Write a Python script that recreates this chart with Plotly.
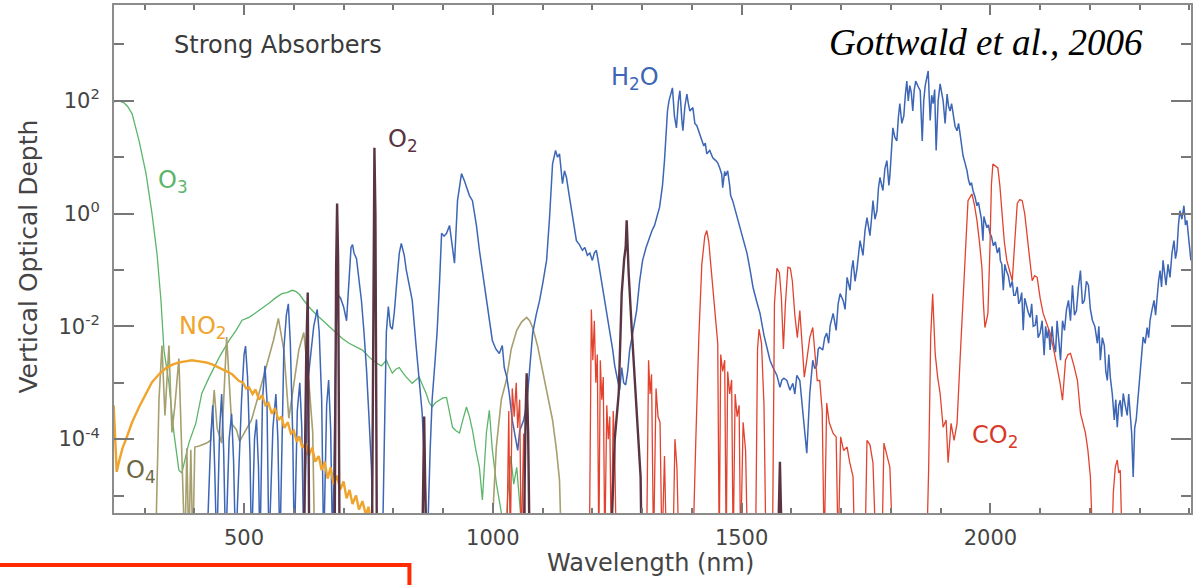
import plotly.graph_objects as go

# Vertical optical depth spectra, stored as (wavelength nm, log10 optical depth).
# A value of -6 lies below the plotted range (line drops off the bottom).
o3_pts = [
    (238, 1.98), (248, 2.0), (258, 1.97), (266, 1.9), (275, 1.77), (282, 1.55), (289, 1.29),
    (303, 0.71), (315, 0.0), (325, -0.71), (333, -1.54), (339, -2.42), (349, -3.01),
    (359, -3.89), (369, -4.55), (375, -4.60), (389, -4.07), (403, -3.72), (415, -3.19),
    (430, -2.90), (450, -2.55), (470, -2.25), (484, -2.07), (496, -1.89), (510, -1.84),
    (520, -1.78), (530, -1.72), (540, -1.66), (550, -1.59), (564, -1.49), (576, -1.42),
    (586, -1.40), (597, -1.36), (604, -1.38), (611, -1.43), (621, -1.55), (631, -1.66),
    (644, -1.78), (657, -1.89), (671, -2.0), (685, -2.12), (698, -2.22), (711, -2.30),
    (725, -2.36), (738, -2.42), (752, -2.55), (766, -2.65), (776, -2.70), (786, -2.60),
    (792, -2.72), (798, -2.83), (805, -2.76), (812, -2.73), (819, -2.82), (826, -2.90),
    (838, -3.01), (845, -2.95), (852, -2.90), (859, -3.05), (866, -3.19), (872, -3.35),
    (878, -3.43), (885, -3.35), (893, -3.31), (900, -3.27), (907, -3.26), (913, -3.55),
    (919, -3.79), (926, -3.85), (933, -3.89), (940, -3.65), (947, -3.43), (953, -3.6),
    (959, -3.84), (966, -4.2), (973, -4.50), (979, -5.08), (984, -4.3), (987, -3.89),
    (993, -3.49), (999, -4.19), (1007, -4.78), (1013, -5.1), (1019, -5.4), (1024, -6),
    (1030, -5.0), (1036, -4.3), (1042, -4.8), (1048, -4.5), (1055, -5.2), (1062, -6), (2403, -6),
]

no2_pts = [
    (238, -3.40), (244, -4.58), (250, -4.35), (256, -4.15), (262, -4.02), (275, -3.70),
    (289, -3.43), (302, -3.2), (315, -2.99), (329, -2.85), (343, -2.74), (356, -2.68),
    (369, -2.64), (382, -2.62), (395, -2.60), (410, -2.62), (424, -2.64), (437, -2.68),
    (450, -2.73), (463, -2.79), (476, -2.85), (490, -2.97), (498, -3.0), (504, -3.1),
    (510, -3.08), (517, -3.2), (523, -3.12), (530, -3.3), (536, -3.22), (543, -3.4),
    (549, -3.36), (556, -3.55), (562, -3.45), (569, -3.66), (575, -3.6), (581, -3.8),
    (588, -3.7), (594, -3.9), (600, -3.85), (606, -4.05), (611, -3.95), (617, -4.15),
    (624, -4.08), (630, -4.3), (637, -4.15), (643, -4.4), (650, -4.3), (656, -4.55),
    (662, -4.4), (668, -4.7), (674, -4.5), (680, -4.8), (687, -4.65), (693, -4.9),
    (700, -4.75), (706, -5.05), (712, -4.9), (718, -5.15), (725, -5.0), (731, -5.25),
    (738, -5.1), (745, -5.35), (750, -5.2), (756, -5.5), (760, -6), (2403, -6),
]

o4_pts = [
    (238, -6), (322, -6), (329, -3.3), (335, -2.34), (341, -3.58), (349, -2.34),
    (355, -3.88), (361, -3.4), (369, -2.57), (375, -4.11), (381, -6), (385, -4.16),
    (389, -6), (393, -4.19), (397, -6), (401, -4.14), (410, -4.12), (425, -4.07),
    (433, -4.02), (440, -3.13), (446, -3.81), (455, -4.07), (465, -2.19), (475, -3.72),
    (485, -3.84), (491, -4.04), (501, -3.88), (515, -3.66), (529, -3.22), (545, -2.69),
    (559, -2.25), (569, -1.86), (580, -2.42), (590, -3.63), (600, -3.04), (610, -2.42),
    (620, -2.11), (630, -2.96), (638, -3.88), (642, -6), (996, -6), (1002, -5.0),
    (1007, -4.14), (1017, -3.3), (1027, -2.96), (1037, -2.4), (1048, -2.07), (1058, -1.92),
    (1068, -1.84), (1074, -1.9), (1080, -2.02), (1090, -2.35), (1100, -2.78), (1110, -3.2),
    (1120, -3.66), (1128, -4.2), (1134, -4.73), (1138, -6), (2403, -6),
]

o2_pts = [
    (238, -6), (620, -6), (625, -2.5), (628, -1.4), (631, -6), (682, -6), (685, -1.0),
    (687, 0.18), (689, -0.8), (692, -6), (757, -6), (760, -0.5), (762, 1.17), (764, 0.0),
    (767, -6), (858, -6), (862, -3.6), (866, -6), (1062, -6), (1066, -3.5), (1068, -2.83),
    (1071, -3.9), (1074, -6), (1237, -6), (1245, -4.0), (1253, -3.19), (1259, -1.42),
    (1264, -0.8), (1267, -0.60), (1269, -0.12), (1271, -0.7), (1273, -1.06), (1279, -2.02),
    (1287, -3.19), (1293, -4.2), (1297, -4.67), (1299, -6), (1573, -6), (1577, -4.4),
    (1581, -6), (2403, -6),
]

h2o_pts = [
    (238, -6), (425, -6), (433, -4.0), (437, -3.4), (441, -4.5), (445, -6), (451, -3.8),
    (455, -3.2), (459, -4.2), (463, -6), (470, -4.0), (475, -3.55), (479, -4.4), (483, -6),
    (495, -3.3), (500, -2.5), (503, -2.35), (507, -2.9), (512, -4.3), (515, -6), (521, -4.0),
    (525, -3.65), (529, -4.5), (532, -6), (537, -3.3), (542, -2.7), (546, -3.3), (550, -6),
    (558, -3.8), (564, -3.2), (568, -4.0), (572, -6), (580, -2.4), (585, -1.8), (589, -1.6),
    (593, -2.3), (598, -4.0), (601, -6), (607, -3.5), (612, -3.0), (616, -3.8), (620, -6),
    (628, -3.0), (640, -2.0), (647, -1.7), (651, -2.1), (656, -3.3), (660, -6), (666, -3.4),
    (670, -2.95), (674, -3.8), (678, -6), (685, -2.0), (690, -1.45), (694, -1.5), (700, -1.65),
    (706, -1.9), (711, -1.2), (715, -0.6), (718, -0.55), (721, -0.7), (726, -0.8), (730, -1.1),
    (736, -1.55), (741, -2.1), (746, -2.75), (751, -3.6), (756, -4.5), (760, -6), (778, -6),
    (783, -3.5), (786, -2.1), (790, -1.65), (794, -2.0), (798, -2.05), (802, -1.75),
    (808, -1.1), (812, -0.7), (816, -0.53), (822, -0.74), (826, -1.0), (832, -1.3),
    (838, -1.54), (846, -2.37), (852, -2.96), (858, -3.54), (864, -4.73), (868, -6),
    (874, -4.2), (878, -3.3), (884, -2.6), (888, -2.1), (893, -1.2), (897, -0.35),
    (902, -0.4), (907, -0.35), (913, -0.21), (917, -0.48), (923, -0.88), (929, 0.23),
    (937, 0.71), (943, 0.58), (947, 0.46), (953, 0.32), (959, 0.23), (967, -0.21),
    (973, -0.65), (980, -1.1), (987, -1.54), (993, -1.9), (999, -2.25), (1006, -2.4),
    (1013, -2.48), (1019, -2.34), (1023, -2.73), (1028, -2.9), (1033, -3.19), (1039, -3.66),
    (1045, -4.0), (1050, -4.2), (1054, -3.85), (1062, -3.66), (1068, -3.4), (1074, -2.78),
    (1080, -2.12), (1087, -1.8), (1094, -1.54), (1101, -1.2), (1108, -0.83), (1114, -0.07),
    (1120, 0.88), (1126, 1.12), (1130, 1.0), (1134, 1.06), (1140, 0.53), (1144, 0.76),
    (1148, 0.64), (1153, 0.35), (1158, 0.05), (1163, -0.25), (1168, -0.48), (1174, -0.55),
    (1180, -0.65), (1185, -0.6), (1190, -0.74), (1195, -0.7), (1200, -0.83), (1204, -0.7),
    (1208, -0.65), (1212, -0.85), (1215, -1.01), (1222, -1.35), (1229, -1.72), (1235, -2.1),
    (1241, -2.42), (1245, -2.7), (1249, -2.90), (1255, -3.13), (1259, -2.73), (1263, -3.0),
    (1267, -3.04), (1271, -2.8), (1275, -2.42), (1282, -2.05), (1289, -1.72), (1295, -1.2),
    (1301, -0.83), (1308, -0.6), (1315, -0.42), (1320, -0.3), (1325, -0.21), (1330, -0.05),
    (1335, 0.11), (1338, 0.3), (1341, 0.50), (1345, 0.94), (1348, 1.4), (1351, 1.82),
    (1354, 2.0), (1357, 2.09), (1361, 2.23), (1365, 1.73), (1369, 1.52), (1373, 2.0),
    (1376, 2.18), (1380, 1.65), (1382, 1.47), (1386, 1.9), (1390, 2.12), (1393, 1.95),
    (1396, 1.82), (1402, 1.88), (1406, 1.6), (1410, 1.56), (1416, 1.42), (1420, 1.3),
    (1424, 1.20), (1427, 1.25), (1430, 1.06), (1436, 1.12), (1442, 0.99), (1448, 0.94),
    (1452, 0.9), (1456, 0.81), (1460, 0.7), (1462, 0.46), (1466, 0.75), (1468, 0.67),
    (1472, 0.76), (1476, 0.5), (1478, 0.32), (1482, 0.23), (1486, 0.1), (1490, -0.04),
    (1496, -0.25), (1503, -0.45), (1511, -0.71), (1517, -1.0), (1523, -1.31), (1530, -1.55),
    (1537, -1.77), (1545, -2.16), (1551, -2.37), (1557, -2.60), (1563, -2.73), (1571, -2.87),
    (1577, -3.08), (1581, -2.95), (1585, -2.92), (1591, -2.96), (1597, -3.13), (1603, -3.01),
    (1607, -3.2), (1611, -2.87), (1617, -2.96), (1621, -3.3), (1625, -3.66), (1631, -4.25),
    (1637, -3.19), (1643, -2.60), (1647, -2.75), (1651, -2.69), (1654, -2.4), (1657, -2.37),
    (1663, -2.42), (1667, -2.2), (1671, -2.12), (1675, -2.3), (1678, -1.98), (1684, -1.77),
    (1690, -2.07), (1694, -1.6), (1698, -1.42), (1704, -1.54), (1708, -1.7), (1712, -1.13),
    (1718, -1.36), (1721, -1.0), (1724, -0.83), (1728, -1.2), (1732, -0.97), (1735, -0.7),
    (1738, -0.48), (1744, -0.74), (1748, -0.3), (1752, -0.07), (1758, -0.39), (1761, -0.1),
    (1764, 0.23), (1768, -0.1), (1772, 0.05), (1775, 0.45), (1778, 0.64), (1784, 0.41),
    (1788, 0.8), (1792, 0.94), (1796, 0.5), (1798, 0.67), (1802, 1.2), (1804, 1.52),
    (1808, 1.35), (1812, 1.29), (1815, 1.7), (1818, 1.95), (1822, 1.6), (1826, 1.73),
    (1829, 2.1), (1832, 2.35), (1835, 2.0), (1838, 2.27), (1841, 2.15), (1844, 1.82),
    (1847, 2.2), (1850, 2.35), (1855, 2.25), (1859, 2.18), (1863, 1.29), (1866, 2.0),
    (1869, 2.27), (1872, 2.4), (1875, 2.53), (1879, 1.65), (1882, 2.1), (1885, 1.95),
    (1888, 2.2), (1891, 1.12), (1893, 1.8), (1895, 2.0), (1899, 2.30), (1902, 2.1),
    (1905, 2.0), (1909, 1.6), (1913, 2.12), (1916, 1.9), (1919, 1.82), (1922, 1.95),
    (1925, 1.77), (1929, 1.55), (1933, 1.47), (1936, 1.6), (1939, 1.42), (1942, 1.2),
    (1945, 1.03), (1949, 0.9), (1953, 0.76), (1956, 0.6), (1959, 0.50), (1962, 0.55),
    (1965, 0.41), (1969, 0.3), (1973, 0.14), (1976, 0.2), (1979, 0.05), (1982, -0.1),
    (1985, -0.48), (1987, -0.05), (1989, -0.12), (1993, -0.25), (1996, -0.2), (1999, -0.35),
    (2002, -0.4), (2006, -0.57), (2010, -0.5), (2014, -0.7), (2018, -0.6), (2020, -0.83),
    (2023, -0.9), (2026, -1.36), (2029, -0.9), (2032, -1.01), (2036, -1.1), (2040, -1.31),
    (2044, -1.2), (2047, -1.45), (2050, -1.45), (2054, -1.3), (2057, -1.6), (2060, -1.54),
    (2063, -1.4), (2066, -2.07), (2069, -1.5), (2072, -1.63), (2076, -1.75), (2080, -1.84),
    (2083, -1.6), (2086, -2.0), (2090, -1.98), (2093, -1.8), (2096, -2.2), (2100, -2.12),
    (2104, -1.9), (2108, -2.51), (2111, -2.0), (2114, -2.21), (2117, -2.05), (2120, -2.42),
    (2124, -2.0), (2127, -2.3), (2131, -2.46), (2134, -1.9), (2137, -2.2), (2141, -2.60),
    (2145, -1.9), (2149, -2.07), (2153, -1.7), (2157, -1.54), (2161, -1.9), (2165, -1.27),
    (2169, -1.8), (2173, -1.72), (2177, -1.3), (2181, -1.01), (2185, -1.6), (2189, -1.54),
    (2193, -1.2), (2197, -1.27), (2201, -1.7), (2205, -1.89), (2210, -2.0), (2215, -2.30),
    (2218, -2.0), (2221, -2.60), (2225, -2.2), (2229, -2.34), (2232, -2.8), (2235, -2.96),
    (2238, -2.5), (2241, -2.90), (2245, -3.2), (2249, -3.66), (2252, -3.3), (2255, -3.79),
    (2258, -3.4), (2261, -3.31), (2264, -3.6), (2267, -3.19), (2271, -3.4), (2275, -3.58),
    (2278, -3.2), (2281, -3.49), (2284, -3.9), (2287, -4.67), (2290, -3.8), (2293, -3.66),
    (2297, -3.2), (2301, -2.90), (2304, -2.5), (2307, -2.19), (2311, -2.3), (2315, -2.02),
    (2318, -2.2), (2321, -1.89), (2325, -1.7), (2329, -1.54), (2332, -1.8), (2335, -1.42),
    (2338, -1.2), (2341, -1.01), (2344, -1.3), (2347, -0.83), (2350, -1.1), (2353, -1.27),
    (2357, -0.9), (2361, -1.13), (2365, -0.7), (2369, -0.48), (2372, -0.8), (2375, -0.65),
    (2378, -0.2), (2381, 0.05), (2385, -0.1), (2389, 0.14), (2392, -0.2), (2395, -0.12),
    (2398, -0.39), (2403, -0.83),
]

co2_pts = [
    (238, -6), (1028, -6), (1032, -3.5), (1035, -6), (1039, -3.1), (1043, -3.6), (1047, -3.0),
    (1050, -3.8), (1054, -3.3), (1057, -6), (1062, -3.9), (1066, -6), (1194, -6), (1198, -1.7),
    (1201, -2.6), (1204, -1.9), (1207, -3.0), (1210, -2.5), (1213, -6), (1216, -2.6),
    (1219, -3.3), (1222, -2.9), (1225, -6), (1229, -3.4), (1232, -4.0), (1235, -3.6),
    (1238, -6), (1242, -3.5), (1245, -4.2), (1248, -6), (1309, -6), (1313, -2.6),
    (1316, -3.2), (1319, -2.85), (1323, -6), (1328, -3.1), (1332, -3.6), (1336, -3.7),
    (1340, -6), (1345, -4.3), (1349, -6), (1362, -6), (1366, -4.0), (1370, -4.5), (1374, -6),
    (1402, -6), (1408, -4.0), (1414, -2.2), (1420, -0.9), (1426, -0.4), (1430, -0.3),
    (1434, -0.5), (1438, -0.9), (1443, -1.4), (1448, -2.0), (1452, -2.3), (1455, -6),
    (1458, -2.5), (1462, -2.8), (1466, -2.6), (1469, -6), (1472, -2.8), (1476, -3.2),
    (1480, -2.95), (1483, -6), (1487, -3.2), (1491, -3.6), (1495, -3.4), (1498, -6),
    (1503, -3.7), (1508, -4.2), (1512, -6), (1528, -6), (1532, -2.4), (1535, -2.05),
    (1540, -2.3), (1545, -3.4), (1549, -6), (1562, -6), (1566, -1.6), (1571, -0.97),
    (1576, -1.05), (1580, -1.5), (1584, -2.4), (1588, -1.6), (1593, -0.95), (1598, -0.97),
    (1602, -1.2), (1607, -1.8), (1612, -2.2), (1617, -1.72), (1622, -2.4), (1626, -2.9),
    (1631, -2.60), (1637, -2.2), (1643, -2.02), (1648, -2.5), (1652, -2.96), (1657, -2.96),
    (1662, -3.5), (1666, -6), (1671, -3.36), (1676, -3.7), (1680, -3.79), (1684, -3.9),
    (1690, -3.96), (1694, -6), (1699, -3.96), (1705, -4.2), (1712, -4.14), (1717, -4.4),
    (1724, -4.67), (1727, -6), (1748, -6), (1752, -4.02), (1758, -4.1), (1764, -4.42),
    (1770, -6), (1782, -6), (1786, -4.07), (1792, -4.3), (1798, -4.5), (1804, -6),
    (1872, -6), (1876, -4.5), (1880, -2.19), (1884, -1.42), (1889, -2.48), (1894, -2.9),
    (1899, -3.19), (1905, -3.79), (1911, -3.66), (1915, -4.42), (1921, -3.72), (1927, -4.02),
    (1933, -3.72), (1939, -2.60), (1944, -1.6), (1949, -0.83), (1955, 0.23), (1960, 0.3),
    (1963, 0.35), (1968, 0.15), (1973, -0.12), (1978, -0.5), (1983, -0.96), (1986, -1.6),
    (1989, -2.02), (1992, -1.9), (1995, -1.77), (1999, -0.65), (2002, 0.5), (2005, 0.88),
    (2010, 0.85), (2015, 0.81), (2019, 0.5), (2023, 0.05), (2028, -0.5), (2033, -0.83),
    (2038, -1.0), (2044, -1.19), (2049, -0.5), (2054, 0.18), (2059, 0.25), (2064, 0.23),
    (2069, 0.0), (2074, -0.35), (2079, -0.8), (2084, -1.19), (2089, -1.1), (2094, -1.13),
    (2100, -1.5), (2106, -1.77), (2113, -1.95), (2120, -2.12), (2127, -2.4), (2134, -2.73),
    (2140, -3.0), (2145, -3.31), (2148, -2.9), (2151, -2.60), (2156, -2.5), (2161, -2.48),
    (2168, -2.7), (2175, -2.96), (2181, -3.54), (2186, -3.7), (2191, -3.89), (2196, -4.2),
    (2201, -4.67), (2206, -6), (2244, -6), (2247, -4.96), (2251, -4.5), (2255, -4.37),
    (2258, -4.6), (2261, -4.55), (2265, -6), (2403, -6),
]

y_tick_vals = [1e2, 1e0, 1e-2, 1e-4]
y_tick_text = ["10<sup>2</sup>", "10<sup>0</sup>", "10<sup>-2</sup>", "10<sup>-4</sup>"]
y_minor_vals = [1e3, 1e1, 1e-1, 1e-3, 1e-5]
x_tick_vals = [500, 1000, 1500, 2000]

FONT = "DejaVu Sans, Verdana, sans-serif"


def unpack(pts):
    xs = [p[0] for p in pts]
    ys = [10 ** p[1] for p in pts]
    return xs, ys


series = [
    ("O3", o3_pts, "#5cb56a", 1.3),
    ("O4", o4_pts, "#a69f6e", 1.6),
    ("H2O", h2o_pts, "#3d66b6", 1.5),
    ("NO2", no2_pts, "#f0a42c", 2.4),
    ("CO2", co2_pts, "#e2432f", 1.3),
    ("O2", o2_pts, "#5a3443", 2.4),
]

fig = go.Figure()
for name, pts, color, width in series:
    xs, ys = unpack(pts)
    fig.add_trace(go.Scatter(x=xs, y=ys, mode="lines", name=name,
                             line=dict(color=color, width=width), showlegend=False))

# species labels, placed in data coordinates (x in nm, y in log10 units)
labels = [
    ("O<sub>3</sub>", 357, 0.57, "#5cb56a"),
    ("NO<sub>2</sub>", 417, -2.02, "#f0a42c"),
    ("O<sub>4</sub>", 293, -4.57, "#6e6843"),
    ("O<sub>2</sub>", 820, 1.29, "#5a3443"),
    ("H<sub>2</sub>O", 1286, 2.39, "#3d66b6"),
    ("CO<sub>2</sub>", 2010, -3.96, "#d63b2a"),
]
for text, x, y, color in labels:
    fig.add_annotation(x=x, y=y, xref="x", yref="y", text=text, showarrow=False,
                       xanchor="center", yanchor="middle",
                       font=dict(family=FONT, size=24, color=color))

fig.add_annotation(x=568, y=2.99, xref="x", yref="y", text="Strong Absorbers",
                   showarrow=False, xanchor="center", yanchor="middle",
                   font=dict(family=FONT, size=24, color="#3a3a3a"))
fig.add_annotation(x=1992, y=3.03, xref="x", yref="y", text="<i>Gottwald et al., 2006</i>",
                   showarrow=False, xanchor="center", yanchor="middle",
                   font=dict(family="Liberation Serif, Times New Roman, serif",
                             size=37, color="#000000"))

# axis titles
fig.add_annotation(x=-0.0797, y=0.505, xref="paper", yref="paper", text="Vertical Optical Depth",
                   textangle=-90, showarrow=False, xanchor="center", yanchor="middle",
                   font=dict(family=FONT, size=25, color="#444444"))
fig.add_annotation(x=0.4986, y=-0.098, xref="paper", yref="paper", text="Wavelength (nm)",
                   showarrow=False, xanchor="center", yanchor="middle",
                   font=dict(family=FONT, size=24, color="#444444"))

# red bracket below the plot
fig.add_shape(type="path", xref="paper", yref="paper",
              path="M -0.12,-0.1022 L 0.2743,-0.1022 L 0.2743,-0.17",
              line=dict(color="#ff2a00", width=4), layer="above")

fig.update_xaxes(
    range=[238.6, 2403.2], showgrid=False, zeroline=False,
    showline=True, linecolor="#8c8c8c", linewidth=2, mirror="allticks",
    ticks="inside", ticklen=10, tickwidth=1.5, tickcolor="#777777",
    tickvals=x_tick_vals, ticktext=[str(v) for v in x_tick_vals],
    tickfont=dict(family=FONT, size=21, color="#444444"), ticklabelstandoff=5,
    minor=dict(dtick=100, tick0=0, ticks="inside", ticklen=5, tickcolor="#777777", tickwidth=1.5),
)
fig.update_yaxes(
    type="log", range=[-5.31, 3.70], showgrid=False, zeroline=False,
    showline=True, linecolor="#8c8c8c", linewidth=2, mirror="allticks",
    ticks="inside", ticklen=20, tickwidth=1.5, tickcolor="#777777",
    tickmode="array", tickvals=y_tick_vals, ticktext=y_tick_text,
    tickfont=dict(family=FONT, size=21, color="#444444"), ticklabelstandoff=8,
    minor=dict(tickmode="array", tickvals=y_minor_vals, ticks="inside", ticklen=10,
               tickcolor="#777777", tickwidth=1.5),
)

fig.update_layout(
    width=1196, height=585,
    margin=dict(l=114, r=3, t=4, b=72),
    paper_bgcolor="white", plot_bgcolor="white",
)

fig.write_html("out.html")
